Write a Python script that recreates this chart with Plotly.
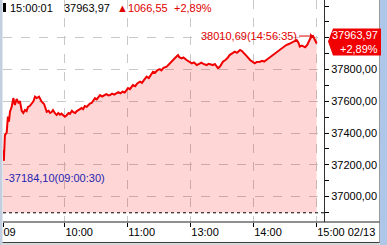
import plotly.graph_objects as go

# ---------------- data ----------------
times = [
    "09:00:40", "09:01:50", "09:02:50", "09:04:30", "09:05:40", "09:06:40", "09:07:40",
    "09:09:20", "09:10:50", "09:12:20", "09:14:00", "09:15:40", "09:17:10", "09:18:50",
    "09:20:20", "09:22:00", "09:23:30", "09:24:50", "09:26:30", "09:28:20", "09:30:00",
    "09:31:30", "09:33:10", "09:35:20", "09:36:40", "09:37:50", "09:40:10", "09:41:30",
    "09:42:40", "09:44:30", "09:45:50", "09:47:20", "09:48:40", "09:50:30", "09:52:10",
    "09:53:40", "09:55:20", "09:56:40", "09:58:10", "10:00:00", "10:01:40", "10:03:30",
    "10:04:50", "10:06:40", "10:08:00", "10:09:50", "10:11:20", "10:13:00", "10:14:20",
    "10:16:00", "10:17:20", "10:19:00", "10:20:50", "10:22:30", "10:23:50", "10:25:30",
    "10:26:50", "10:28:40", "10:30:20", "10:32:00", "10:33:30", "10:35:30", "10:37:30",
    "10:39:30", "10:41:30", "10:43:00", "10:45:00", "10:47:00", "10:49:00", "10:51:00",
    "10:53:00", "10:55:00", "10:57:00", "10:58:50", "11:00:10", "11:02:00", "11:04:50",
    "11:07:00", "11:09:00", "11:11:40", "11:13:30", "11:15:30", "11:18:00", "11:20:00",
    "11:22:00", "11:24:00", "11:26:00", "11:28:00", "11:30:00",
    "12:30:40", "12:32:00", "12:34:00", "12:37:00", "12:39:00", "12:41:00", "12:43:00",
    "12:45:00", "12:47:50", "12:49:00", "12:51:20", "12:53:00", "12:56:00", "12:58:00",
    "13:01:00", "13:03:00", "13:05:40", "13:08:00", "13:10:00", "13:12:00", "13:15:00",
    "13:17:00", "13:19:00", "13:21:00", "13:23:00", "13:26:00", "13:28:00", "13:30:40",
    "13:33:00", "13:35:00", "13:37:00", "13:39:00", "13:42:00", "13:44:00", "13:47:00",
    "13:49:00", "13:51:40", "13:54:00", "13:56:30", "13:59:00", "14:01:00", "14:03:00",
    "14:06:00", "14:08:00", "14:10:00", "14:12:00", "14:15:00", "14:18:00", "14:20:00",
    "14:22:00", "14:25:00", "14:27:00", "14:29:00", "14:31:00", "14:34:00", "14:37:30",
    "14:39:00", "14:41:00", "14:42:30", "14:44:00", "14:46:00", "14:49:00", "14:51:00",
    "14:53:00", "14:54:00", "14:56:35", "14:58:00", "15:00:00",
]
values = [
    37293, 37225, 37387, 37402, 37503, 37471, 37534,
    37566, 37620, 37576, 37614, 37591, 37600, 37540,
    37526, 37545, 37538, 37564, 37570, 37589, 37600,
    37629, 37620, 37629, 37612, 37597, 37583, 37560,
    37534, 37540, 37526, 37532, 37545, 37525, 37513,
    37526, 37515, 37522, 37513, 37503, 37512, 37526,
    37520, 37540, 37532, 37526, 37538, 37545, 37552,
    37557, 37550, 37570, 37565, 37576, 37585, 37589,
    37600, 37620, 37612, 37630, 37639, 37630, 37640,
    37645, 37637, 37639, 37648, 37642, 37650, 37657,
    37650, 37660, 37655, 37668, 37683, 37676, 37702,
    37695, 37712, 37723, 37716, 37735, 37755, 37746,
    37770, 37786, 37780, 37795, 37801,
    37801, 37795, 37810, 37818, 37830, 37845, 37860,
    37872, 37891, 37878, 37870, 37876, 37860, 37850,
    37839, 37845, 37828, 37836, 37843, 37835, 37828,
    37836, 37830, 37828, 37835, 37808, 37820, 37849,
    37860, 37872, 37891, 37900, 37912, 37905, 37923,
    37915, 37898, 37880, 37860, 37848, 37839, 37848,
    37849, 37855, 37850, 37860, 37875, 37891, 37900,
    37910, 37923, 37930, 37940, 37954, 37962, 37975,
    37980, 37986, 37970, 37944, 37950, 37940, 37955,
    37980, 37997, 38010.69, 37990, 37963.97,
]
prev_close = 36897.42

x_tick_times = ["09:01:00", "10:00:00", "11:00:00", "13:00:00", "14:00:00", "15:00:00"]
x_tick_text = ["09", "10:00", "11:00", "13:00", "14:00", "15:00 02/13"]
y_tick_vals = [37000, 37200, 37400, 37600, 37800, 38000]
y_tick_text = ["37000,00", "37200,00", "37400,00", "37600,00", "37800,00", ""]

header_time = "15:00:01"
last_price = "37963,97"
change_text = "▲1066,55"
change_pct = "+2,89%"
last_value = 37963.97
max_label = "38010,69(14:56:35)"
max_time = "14:56:35"
max_value = 38010.69
min_label = "-37184,10(09:00:30)"


def tmin(s):
    h, m, sec = map(int, s.split(":"))
    t = h * 60 + m + sec / 60 - 540
    if t > 150:
        t -= 60
    return t


xm = [tmin(t) for t in times]

FONT = "Liberation Sans, Arial, sans-serif"
FS = 11
W, H = 387, 245
L, R, T, B = 3, 63, 0, 23
PW = W - L - R
PH = H - T - B


def px(xpix):
    return (xpix - L) / PW


def py(ypix):
    return (T + PH - ypix) / PH


fig = go.Figure()
fig.add_trace(go.Scatter(x=xm, y=[prev_close] * len(xm), mode="lines",
                         line=dict(width=0, color="rgba(0,0,0,0)"),
                         showlegend=False, hoverinfo="skip"))
fig.add_trace(go.Scatter(x=xm, y=values, mode="lines", fill="tonexty",
                         fillcolor="rgba(255,0,0,0.16)",
                         line=dict(color="#F00000", width=2),
                         showlegend=False))

shapes = []
# previous close dashed line
shapes.append(dict(type="line", xref="paper", x0=0, x1=1, yref="y",
                   y0=prev_close, y1=prev_close,
                   line=dict(color="black", width=1, dash="3px,3px")))
# frames
shapes.append(dict(type="rect", xref="paper", yref="paper", x0=px(0), x1=px(2.5),
                   y0=py(245), y1=py(0), fillcolor="#C3CFDF", line=dict(width=0)))
shapes.append(dict(type="rect", xref="paper", yref="paper", x0=px(380), x1=px(388),
                   y0=py(245), y1=py(0), fillcolor="#AEC6E8", line=dict(width=0)))
shapes.append(dict(type="line", xref="paper", yref="paper", x0=px(379.5), x1=px(379.5),
                   y0=py(243), y1=py(0), line=dict(color="#9A9A9A", width=1)))
shapes.append(dict(type="line", xref="paper", yref="paper", x0=px(3), x1=px(379.5),
                   y0=0, y1=0, line=dict(color="#202020", width=1)))
shapes.append(dict(type="line", xref="paper", yref="paper", x0=px(2.5), x1=px(379.5),
                   y0=py(242.5), y1=py(242.5), line=dict(color="#404040", width=1)))
shapes.append(dict(type="rect", xref="paper", yref="paper", x0=px(2.5), x1=px(379.5),
                   y0=py(246), y1=py(243), fillcolor="#D8D8D8", line=dict(width=0)))
# header marker
shapes.append(dict(type="rect", xref="paper", yref="paper", x0=px(3), x1=px(6),
                   y0=py(12), y1=py(3), fillcolor="black", line=dict(width=0)))
# last price box
shapes.append(dict(type="path", xref="paper", xsizemode="pixel", xanchor=1,
                   yref="y", ysizemode="pixel", yanchor=last_value,
                   path="M 4,2 L 9,15 L 57,15 L 57,-12 L 9,-12 Z",
                   fillcolor="#F00000", line=dict(width=0)))

ann = []
ann.append(dict(text=header_time, xref="paper", yref="paper", x=px(8), y=py(8),
                xanchor="left", yanchor="middle", showarrow=False,
                font=dict(family=FONT, size=FS, color="black")))
ann.append(dict(text=last_price, xref="paper", yref="paper", x=px(62), y=py(8),
                xanchor="left", yanchor="middle", showarrow=False,
                font=dict(family=FONT, size=FS, color="black")))
ann.append(dict(text=change_text, xref="paper", yref="paper", x=px(115), y=py(8),
                xanchor="left", yanchor="middle", showarrow=False,
                font=dict(family=FONT, size=FS, color="#E00000")))
ann.append(dict(text=change_pct, xref="paper", yref="paper", x=px(172), y=py(8),
                xanchor="left", yanchor="middle", showarrow=False,
                font=dict(family=FONT, size=FS, color="#E00000")))
ann.append(dict(text=last_price, xref="paper", yref="paper", x=px(380), y=py(35),
                xanchor="right", yanchor="middle", showarrow=False,
                font=dict(family=FONT, size=FS, color="white")))
ann.append(dict(text=change_pct, xref="paper", yref="paper", x=px(380), y=py(49),
                xanchor="right", yanchor="middle", showarrow=False,
                font=dict(family=FONT, size=FS, color="white")))
ann.append(dict(text=max_label, x=tmin(max_time), y=max_value, xref="x", yref="y",
                showarrow=True, ax=-14, ay=0, xanchor="right", yanchor="middle",
                arrowhead=1, arrowsize=1, arrowwidth=1, arrowcolor="#E00000",
                standoff=0, startstandoff=0,
                font=dict(family=FONT, size=FS, color="#E00000")))
ann.append(dict(text=min_label, xref="paper", yref="paper", x=px(3), y=py(178),
                xanchor="left", yanchor="middle", showarrow=False,
                font=dict(family=FONT, size=FS, color="#2424B0")))

fig.update_layout(
    width=W, height=H, margin=dict(l=L, r=R, t=T, b=B, pad=0),
    paper_bgcolor="white", plot_bgcolor="white",
    font=dict(family=FONT, size=FS, color="black"),
    shapes=shapes, annotations=ann, showlegend=False,
    xaxis=dict(range=[1, 307], tickvals=[tmin(t) for t in x_tick_times],
               ticktext=x_tick_text, ticks="outside", ticklen=4, tickcolor="black",
               ticklabelposition="outside right", showgrid=True, gridcolor="#C8C8C8",
               griddash="dash", gridwidth=1, zeroline=False, showline=False,
               fixedrange=True),
    yaxis=dict(side="right", range=[36839.4, 38237.8], tickvals=y_tick_vals,
               ticktext=y_tick_text, ticks="outside", ticklen=4, tickcolor="black",
               minor=dict(dtick=100, tick0=36900, ticks="outside", ticklen=4,
                          tickcolor="black", showgrid=False),
               showgrid=True, gridcolor="#C8C8C8", griddash="dash", gridwidth=1,
               zeroline=False, showline=True, linecolor="#303030", linewidth=1,
               fixedrange=True),
)

fig.write_html("out.html")
